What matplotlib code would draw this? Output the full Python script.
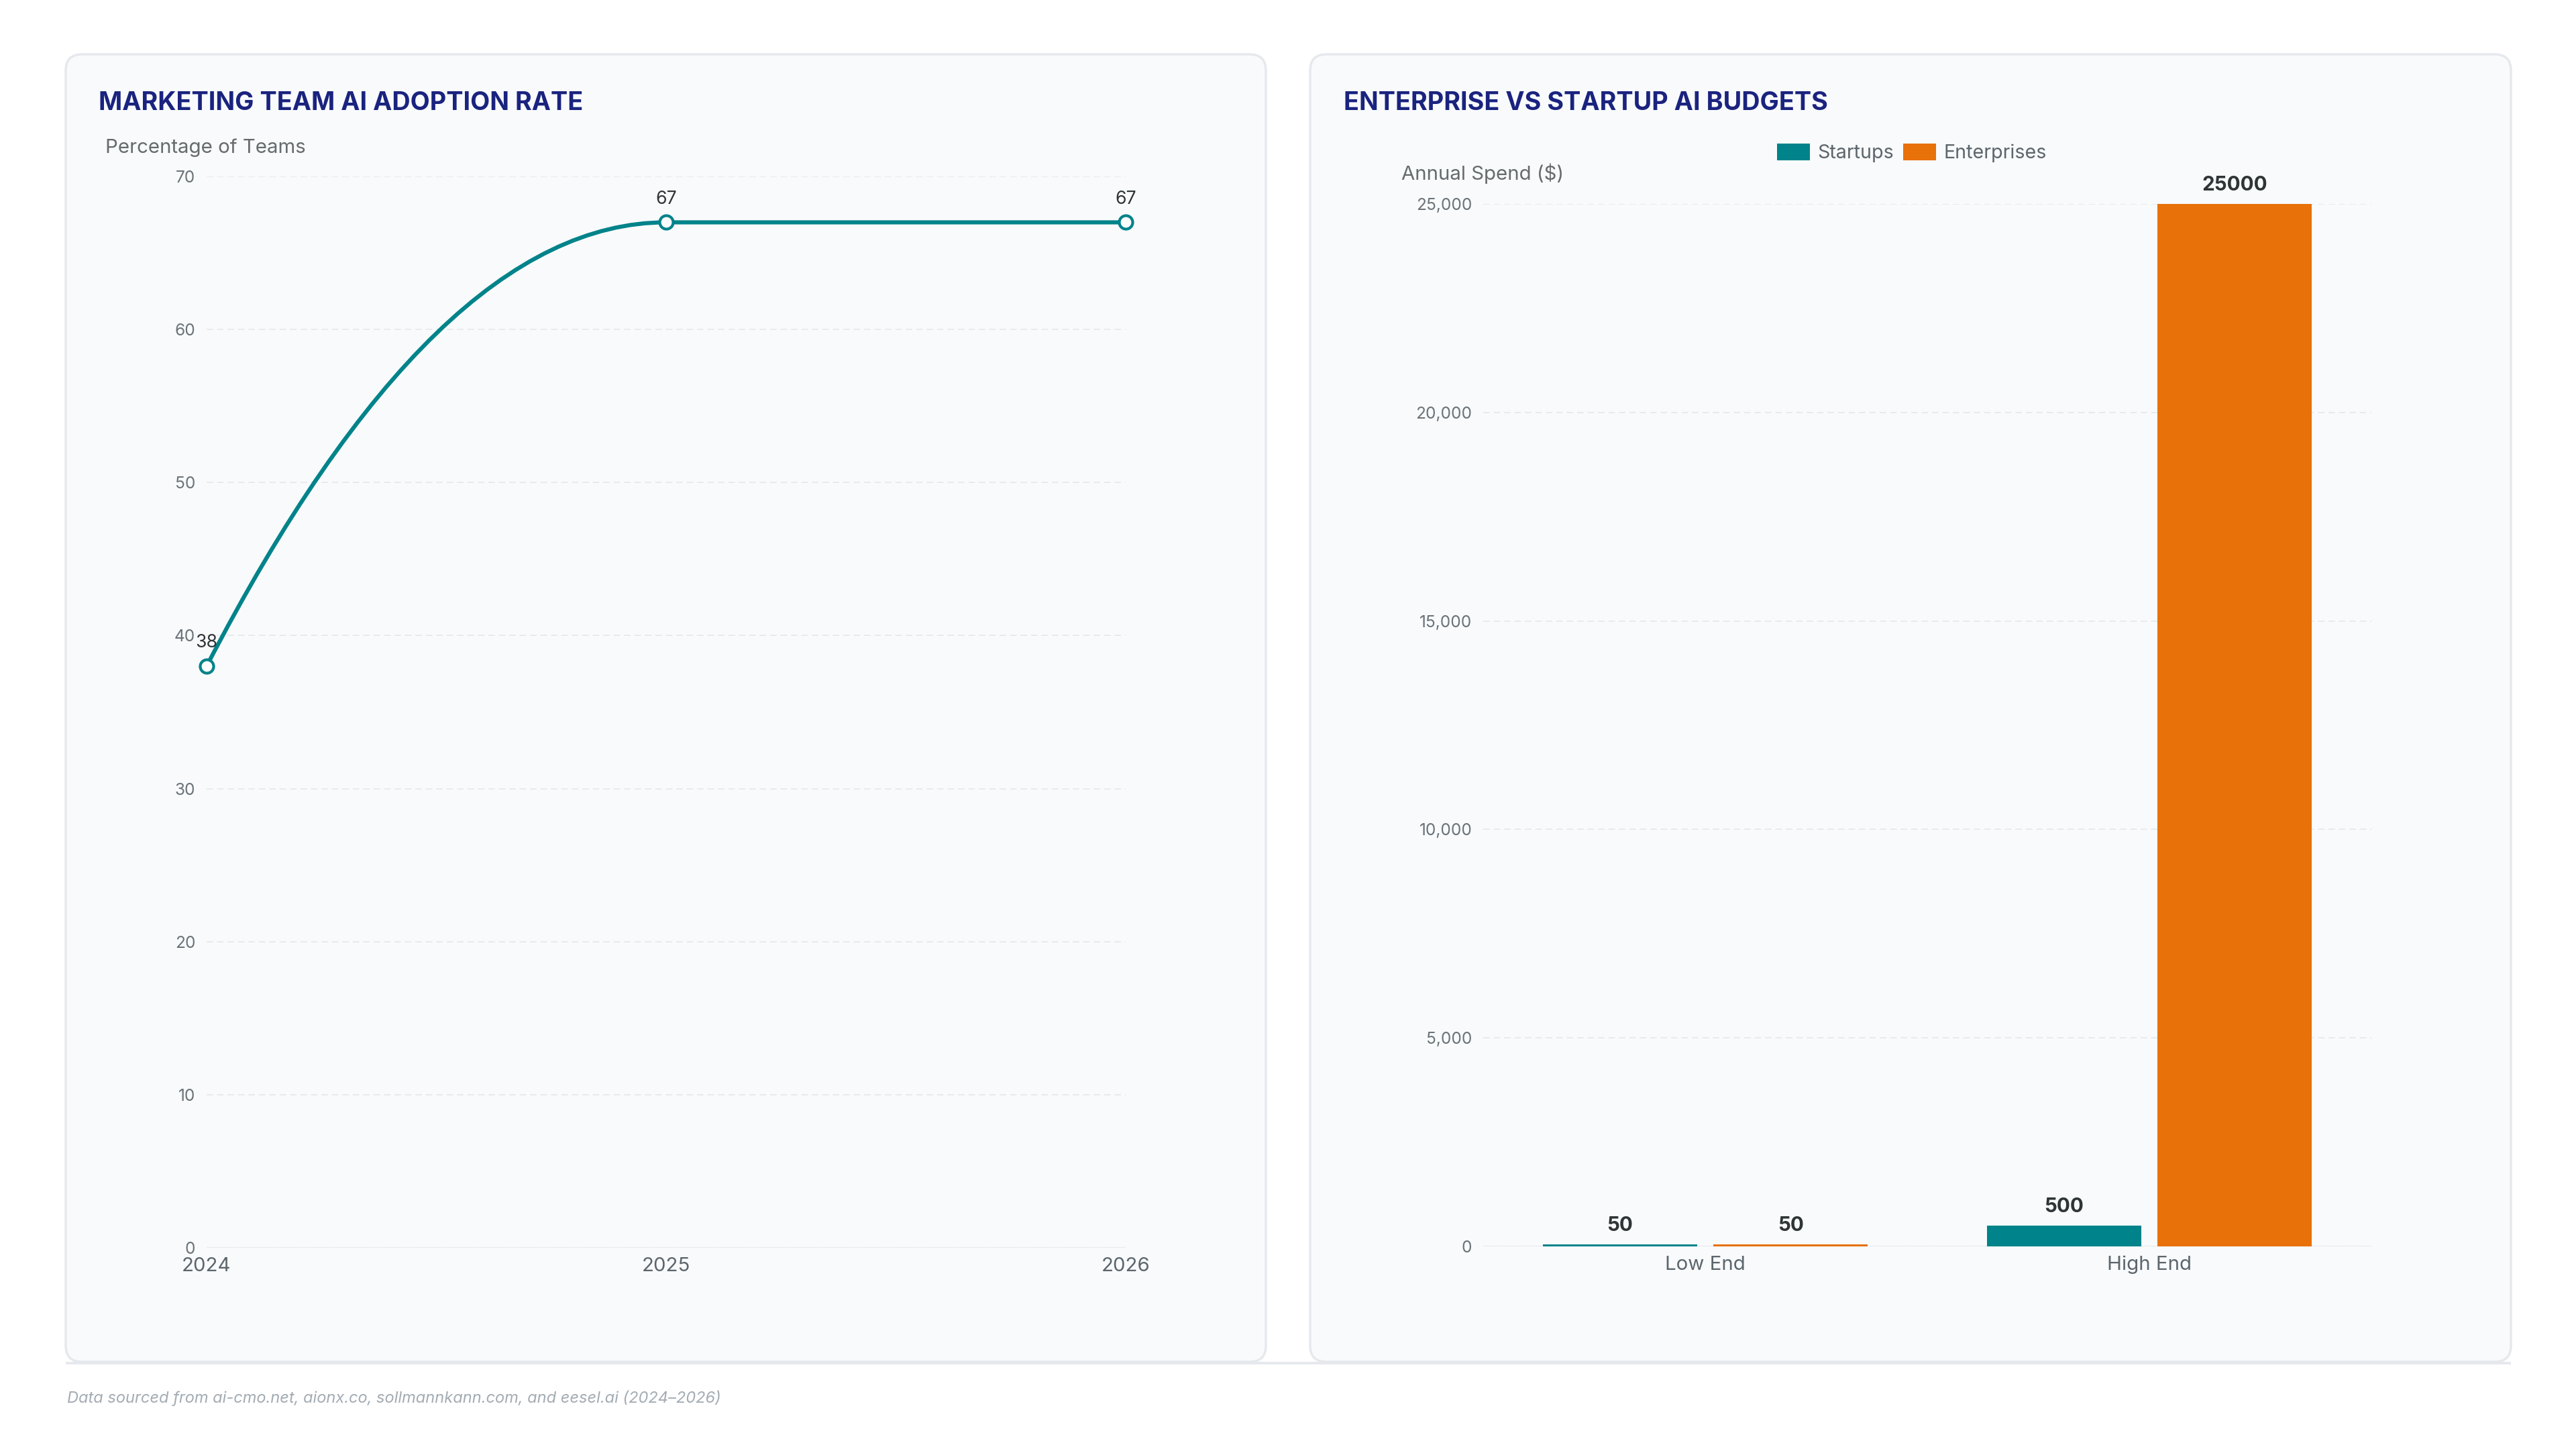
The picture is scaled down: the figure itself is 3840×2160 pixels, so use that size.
import numpy as np
import matplotlib
matplotlib.use("Agg")
import matplotlib.pyplot as plt
from matplotlib.patches import FancyBboxPatch, PathPatch
from matplotlib.path import Path
from matplotlib.ticker import StrMethodFormatter

plt.rcParams['font.family'] = ['Inter', 'DejaVu Sans']

# Data
years = [2024, 2025, 2026]
adoption = [38, 67, 67]

tiers = ['Low End', 'High End']
startups = [50, 500]
enterprises = [50, 25000]

footnote = "Data sourced from ai-cmo.net, aionx.co, sollmannkann.com, and eesel.ai (2024\u20132026)"

# Colours
TEAL = '#00838a'
ORANGE = '#e8710a'
NAVY = '#1a237e'
PANEL = '#f8fafc'
BORDER = '#e5e8ec'
GRID = '#e8ebee'
TICK = '#6b7378'
LABEL = '#2f3436'

W, H = 3840, 2160
fig = plt.figure(figsize=(19.2, 10.8), dpi=200)
fig.patch.set_facecolor('white')

# background layer in pixel units for the cards and free text
bg = fig.add_axes([0, 0, 1, 1], zorder=0)
bg.set_xlim(0, W)
bg.set_ylim(H, 0)
bg.axis('off')

for x0, x1 in [(98, 1887), (1953, 3743)]:
    bg.add_patch(FancyBboxPatch((x0, 81), x1 - x0, 2030 - 81,
                                boxstyle="round,pad=0,rounding_size=24",
                                facecolor=PANEL, edgecolor=BORDER, linewidth=1.2))
bg.plot([98, 3743], [2032, 2032], color=BORDER, lw=1.4, solid_capstyle='butt')

bg.text(147, 154, 'MARKETING TEAM AI ADOPTION RATE', fontsize=13.6, fontweight='bold',
        color=NAVY, ha='left', va='center')
bg.text(2003, 154, 'ENTERPRISE VS STARTUP AI BUDGETS', fontsize=13.6, fontweight='bold',
        color=NAVY, ha='left', va='center')
bg.text(157, 220, 'Percentage of Teams', fontsize=10.6, color='#666b6e', ha='left', va='center')
bg.text(2089, 259, 'Annual Spend ($)', fontsize=10.6, color='#666b6e', ha='left', va='center')
bg.text(100, 2084, footnote, fontsize=8.5, style='italic', color='#a3acb3', ha='left', va='center')


def style_axes(ax):
    ax.patch.set_visible(False)
    for s in ax.spines.values():
        s.set_visible(False)
    ax.tick_params(axis='both', length=0)
    ax.tick_params(axis='y', labelsize=8.8, labelcolor=TICK, pad=6)
    ax.tick_params(axis='x', labelsize=10.6, labelcolor='#5c666c', pad=5)
    ax.yaxis.grid(True, color=GRID, linestyle=(0, (5, 3)), linewidth=0.7)
    ax.set_axisbelow(True)
    ax.axhline(0, color=BORDER, linewidth=0.9, zorder=1)


# Left chart: adoption line
ax1 = fig.add_axes([308 / W, 1 - 1860 / H, 1370 / W, (1860 - 263) / H], zorder=1)
style_axes(ax1)
ax1.set_xlim(years[0], years[-1])
ax1.set_ylim(0, 70)
ax1.set_yticks(range(0, 71, 10))
ax1.set_xticks(years)
ax1.set_xticklabels([str(y) for y in years])

# monotone-style smooth curve as cubic bezier segments
xs = np.array(years, dtype=float)
ys = np.array(adoption, dtype=float)
d = np.diff(ys) / np.diff(xs)
m = np.zeros(len(xs))
for i in range(1, len(xs) - 1):
    m[i] = 0 if d[i - 1] * d[i] <= 0 else (d[i - 1] + d[i]) / 2
m[0] = 2 * d[0] - m[1]
m[-1] = 2 * d[-1] - m[-2]
verts = [(xs[0], ys[0])]
codes = [Path.MOVETO]
for i in range(len(xs) - 1):
    h = xs[i + 1] - xs[i]
    verts += [(xs[i] + h / 3, ys[i] + m[i] * h / 3),
              (xs[i + 1] - h / 3, ys[i + 1] - m[i + 1] * h / 3),
              (xs[i + 1], ys[i + 1])]
    codes += [Path.CURVE4] * 3
ax1.add_patch(PathPatch(Path(verts, codes), facecolor='none', edgecolor=TEAL,
                        linewidth=2.2, zorder=3, clip_on=False))
ax1.plot(years, adoption, linestyle='none', marker='o', markersize=7.2,
         markerfacecolor='white', markeredgecolor=TEAL, markeredgewidth=1.5,
         zorder=4, clip_on=False)
for x, y in zip(years, adoption):
    ax1.annotate(str(y), (x, y), xytext=(0, 12.5), textcoords='offset points',
                 ha='center', va='center', fontsize=9.6, color=LABEL, zorder=5)

# Right chart: grouped bars
ax2 = fig.add_axes([2211 / W, 1 - 1858 / H, 1324 / W, (1858 - 304) / H], zorder=1)
style_axes(ax2)
pos = np.arange(len(tiers))
bw = 0.348
off = 0.192
b1 = ax2.bar(pos - off, startups, width=bw, color=TEAL, label='Startups', zorder=2)
b2 = ax2.bar(pos + off, enterprises, width=bw, color=ORANGE, label='Enterprises', zorder=2)
ax2.set_xlim(-0.5, 1.5)
ax2.set_ylim(0, 25000)
ax2.set_yticks(range(0, 25001, 5000))
ax2.yaxis.set_major_formatter(StrMethodFormatter('{x:,.0f}'))
ax2.set_xticks(pos)
ax2.set_xticklabels(tiers)
for bars in (b1, b2):
    for rect in bars:
        v = rect.get_height()
        ax2.annotate(f'{v:.0f}', (rect.get_x() + rect.get_width() / 2, v),
                     xytext=(0, 10), textcoords='offset points', ha='center',
                     va='center', fontsize=10.7, fontweight='bold', color=LABEL,
                     zorder=5, annotation_clip=False)

ax2.legend(loc='center', bbox_to_anchor=(2850 / W, 1 - 228 / H), bbox_transform=fig.transFigure,
           ncol=2, frameon=False, fontsize=10.3, labelcolor='#5c666c',
           handlelength=1.7, handleheight=1.0, handletextpad=0.4, columnspacing=0.5)

fig.savefig('out.png', dpi=200, facecolor='white')
